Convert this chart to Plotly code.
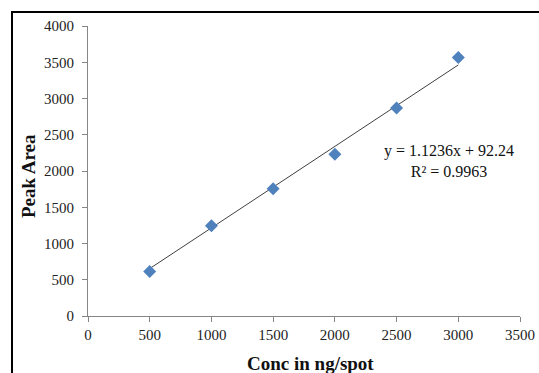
import plotly.graph_objects as go

# Data
conc = [500, 1000, 1500, 2000, 2500, 3000]
peak_area = [615, 1245, 1755, 2230, 2870, 3565]
slope = 1.1236
intercept = 92.24
r_squared = 0.9963
x_ticks = [0, 500, 1000, 1500, 2000, 2500, 3000, 3500]
y_ticks = [0, 500, 1000, 1500, 2000, 2500, 3000, 3500, 4000]

W, H = 539, 373
L, R, T, B = 88, 19, 26, 57
pw, ph = W - L - R, H - T - B

def px_to_paper_x(px):
    return (px - L) / pw

def px_to_paper_y(py):
    return (H - B - py) / ph

trend_x = [min(conc), max(conc)]
trend_y = [slope * v + intercept for v in trend_x]

fig = go.Figure()
fig.add_trace(go.Scatter(
    x=trend_x, y=trend_y, mode="lines",
    line=dict(color="#404040", width=1), showlegend=False, hoverinfo="skip"))
fig.add_trace(go.Scatter(
    x=conc, y=peak_area, mode="markers",
    marker=dict(symbol="diamond", size=10, color="#4F81BD",
                line=dict(width=0)),
    showlegend=False))

axis_common = dict(
    showgrid=False, zeroline=False, showline=True, linecolor="#868686",
    linewidth=1, ticks="outside", ticklen=5, tickcolor="#868686",
    automargin=False,
    tickfont=dict(family="Liberation Serif", size=15, color="#222222"),
)
fig.update_xaxes(range=[0, 3500], tickvals=x_ticks, ticktext=[str(v) for v in x_ticks],
                 ticklabelstandoff=0, **axis_common)
fig.update_yaxes(range=[0, 4000], tickvals=y_ticks, ticktext=[str(v) for v in y_ticks],
                 ticklabelstandoff=5, **axis_common)

eq_text = f"y = {slope}x + {intercept}<br>R² = {r_squared}"
fig.add_annotation(
    x=px_to_paper_x(449), y=px_to_paper_y(161), xref="paper", yref="paper",
    xanchor="center", yanchor="middle",
    text=eq_text, showarrow=False, align="center",
    font=dict(family="Liberation Serif", size=16, color="#111111"))

fig.add_annotation(
    x=px_to_paper_x(29), y=px_to_paper_y(176), xref="paper", yref="paper",
    xanchor="center", yanchor="middle",
    text="<b>Peak Area</b>", textangle=-90, showarrow=False,
    font=dict(family="Liberation Serif", size=19, color="#111111"))
fig.add_annotation(
    x=px_to_paper_x(310), y=px_to_paper_y(364), xref="paper", yref="paper",
    xanchor="center", yanchor="middle",
    text="<b>Conc in ng/spot</b>", showarrow=False,
    font=dict(family="Liberation Serif", size=19, color="#111111"))

fig.add_shape(type="rect", xref="paper", yref="paper",
              x0=px_to_paper_x(12), x1=px_to_paper_x(700),
              y0=px_to_paper_y(600), y1=px_to_paper_y(12),
              line=dict(color="black", width=2), fillcolor="rgba(0,0,0,0)")

fig.update_layout(
    width=W, height=H, margin=dict(l=L, r=R, t=T, b=B, autoexpand=False),
    paper_bgcolor="white", plot_bgcolor="white",
)
fig.write_html("out.html", config={"displayModeBar": False},
               post_script="document.body.style.margin='0';document.body.style.overflow='hidden';")
